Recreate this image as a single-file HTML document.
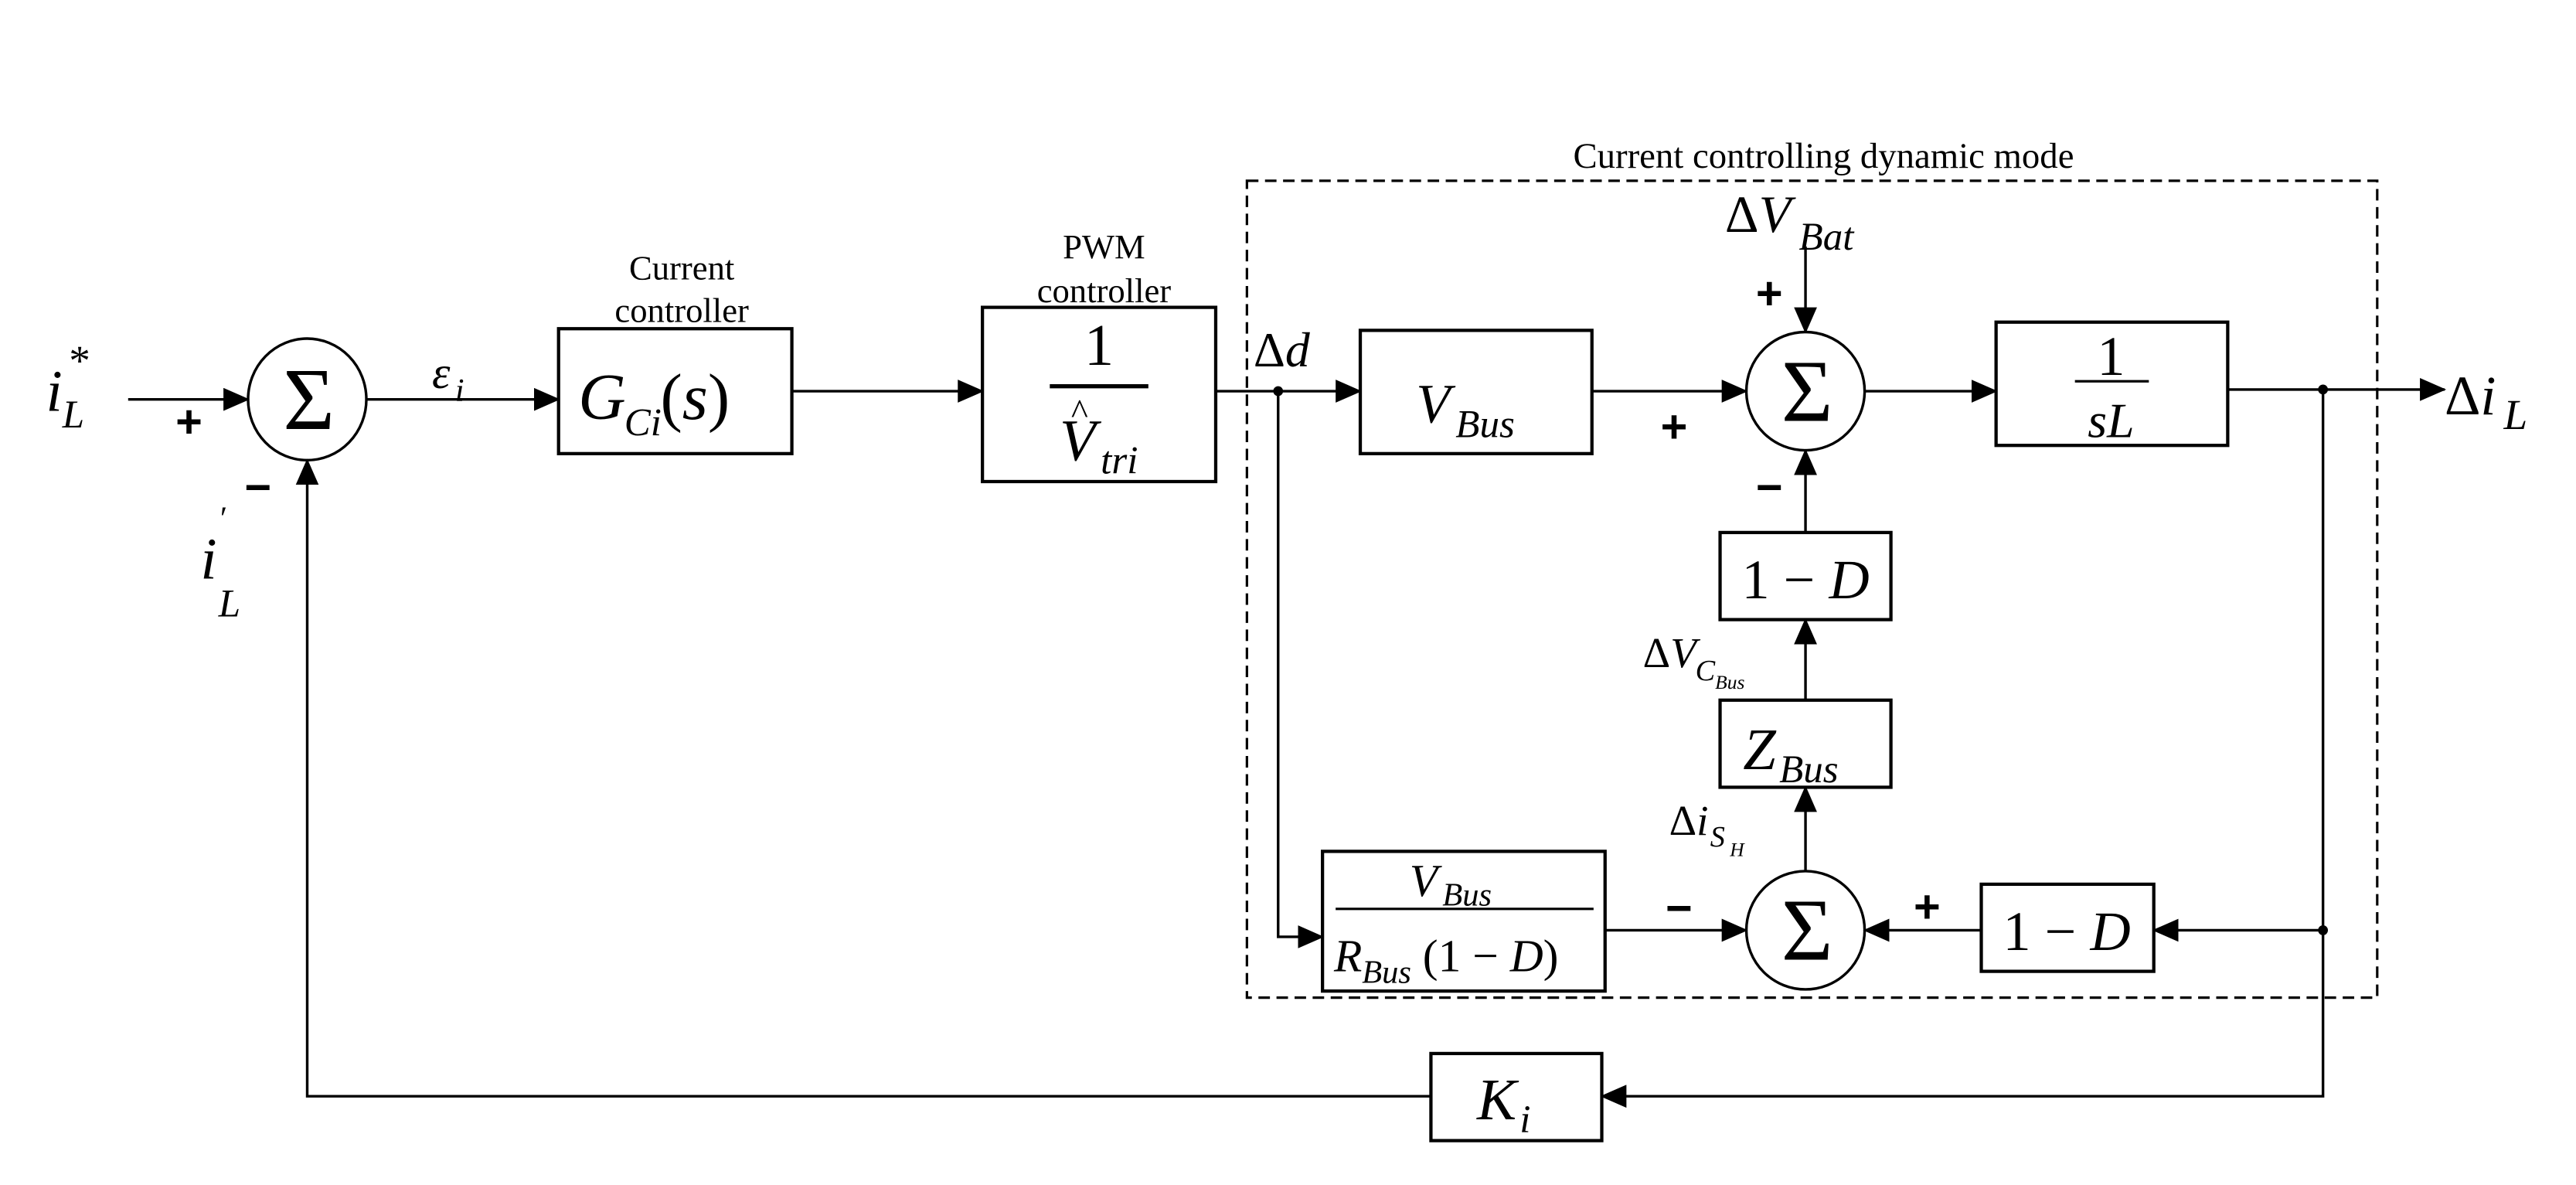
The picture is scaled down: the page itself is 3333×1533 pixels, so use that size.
<!DOCTYPE html>
<html><head><meta charset="utf-8"><style>
html,body{margin:0;padding:0;background:#fff;}
svg{display:block;}
text{font-family:"Liberation Serif",serif;fill:#000;}
.it{font-style:italic;}
</style></head><body>
<svg width="3333" height="1533" viewBox="0 0 1568 721" preserveAspectRatio="none" xmlns="http://www.w3.org/2000/svg">
<defs>
<marker id="a" markerWidth="16" markerHeight="14" refX="15" refY="7" orient="auto" markerUnits="userSpaceOnUse" viewBox="0 0 16 14">
<path d="M0,0 L16,7 L0,14 z" fill="#000"/></marker>
</defs>
<g stroke="#000" fill="none" stroke-width="1.6">
<rect x="759" y="110" width="688" height="497" stroke-dasharray="7,4" stroke-width="1.5"/>
<rect x="340" y="200" width="142" height="76" stroke-width="2"/>
<rect x="598" y="187" width="142" height="106" stroke-width="2"/>
<rect x="828" y="201" width="141" height="75" stroke-width="2"/>
<rect x="1215" y="196" width="141" height="75" stroke-width="2"/>
<rect x="1047" y="324" width="104" height="53" stroke-width="2"/>
<rect x="1047" y="426" width="104" height="53" stroke-width="2"/>
<rect x="805" y="518" width="172" height="85" stroke-width="2"/>
<rect x="1206" y="538" width="105" height="53" stroke-width="2"/>
<rect x="871" y="641" width="104" height="53" stroke-width="2"/>
<ellipse cx="187" cy="243" rx="36" ry="37"/>
<ellipse cx="1099" cy="238" rx="36" ry="36"/>
<ellipse cx="1099" cy="566" rx="36" ry="36"/>
<line x1="639" y1="235" x2="699" y2="235" stroke-width="2.5"/>
<line x1="1263" y1="232" x2="1308" y2="232" stroke-width="1.5"/>
<line x1="813" y1="553" x2="970" y2="553" stroke-width="1.5"/>
<line x1="78" y1="243" x2="151" y2="243" marker-end="url(#a)"/>
<line x1="223" y1="243" x2="340" y2="243" marker-end="url(#a)"/>
<line x1="482" y1="238" x2="598" y2="238" marker-end="url(#a)"/>
<line x1="740" y1="238" x2="828" y2="238" marker-end="url(#a)"/>
<line x1="969" y1="238" x2="1063" y2="238" marker-end="url(#a)"/>
<line x1="1099" y1="150" x2="1099" y2="202" marker-end="url(#a)"/>
<line x1="1135" y1="238" x2="1215" y2="238" marker-end="url(#a)"/>
<line x1="1356" y1="237" x2="1488" y2="237" marker-end="url(#a)"/>
<line x1="1099" y1="324" x2="1099" y2="274" marker-end="url(#a)"/>
<line x1="1099" y1="426" x2="1099" y2="377" marker-end="url(#a)"/>
<line x1="1099" y1="530" x2="1099" y2="479" marker-end="url(#a)"/>
<polyline points="778,238 778,570 805,570" marker-end="url(#a)"/>
<line x1="977" y1="566" x2="1063" y2="566" marker-end="url(#a)"/>
<line x1="1414" y1="566" x2="1311" y2="566" marker-end="url(#a)"/>
<line x1="1206" y1="566" x2="1135" y2="566" marker-end="url(#a)"/>
<polyline points="1414,237 1414,667 975,667" marker-end="url(#a)"/>
<polyline points="871,667 187,667 187,280" marker-end="url(#a)"/>
</g>
<g fill="#000">
<circle cx="778" cy="238" r="3"/>
<circle cx="1414" cy="237" r="3"/>
<circle cx="1414" cy="566" r="3"/>
</g>
<g font-weight="bold" font-size="28" text-anchor="middle">
<text x="115" y="266" style="font-family:'Liberation Sans',sans-serif">+</text>
<text x="157" y="306" style="font-family:'Liberation Sans',sans-serif">−</text>
<text x="1077" y="188" style="font-family:'Liberation Sans',sans-serif">+</text>
<text x="1019" y="269" style="font-family:'Liberation Sans',sans-serif">+</text>
<text x="1077" y="306" style="font-family:'Liberation Sans',sans-serif">−</text>
<text x="1022" y="562" style="font-family:'Liberation Sans',sans-serif">−</text>
<text x="1173" y="561" style="font-family:'Liberation Sans',sans-serif">+</text>
</g>
<g font-size="54" text-anchor="middle">
<text x="188" y="261">Σ</text>
<text x="1100" y="256">Σ</text>
<text x="1100" y="584">Σ</text>
</g>
<text x="415" y="170" font-size="21" text-anchor="middle">Current</text>
<text x="415" y="196" font-size="21" text-anchor="middle">controller</text>
<text x="672" y="157" font-size="21" text-anchor="middle">PWM</text>
<text x="672" y="184" font-size="21" text-anchor="middle">controller</text>
<text x="1110" y="102" font-size="22" text-anchor="middle">Current controlling dynamic mode</text>

<text x="28" y="250" font-size="36" class="it">i</text>
<text x="42" y="228" font-size="26">*</text>
<text x="38" y="260" font-size="24" class="it">L</text>
<text x="122" y="352" font-size="36" class="it">i</text>
<text x="134" y="322" font-size="20">′</text>
<text x="133" y="375" font-size="24" class="it">L</text>
<text x="263" y="236" font-size="28" class="it">ε</text>
<text x="277" y="244" font-size="20" class="it">i</text>

<text x="352" y="255" font-size="40" class="it">G</text>
<text x="380" y="265" font-size="24" class="it">Ci</text>
<text x="402" y="255" font-size="40">(<tspan class="it">s</tspan>)</text>

<text x="669" y="222" font-size="36" text-anchor="middle">1</text>
<text x="645" y="280" font-size="36" class="it">V</text>
<text x="652" y="258" font-size="22">^</text>
<text x="670" y="288" font-size="24" class="it">tri</text>

<text x="763" y="223" font-size="30">Δ<tspan class="it">d</tspan></text>
<text x="862" y="257" font-size="34" class="it">V</text>
<text x="886" y="266" font-size="24" class="it">Bus</text>
<text x="1050" y="141" font-size="32">Δ<tspan class="it">V</tspan></text>
<text x="1095" y="152" font-size="24" class="it">Bat</text>
<text x="1285" y="228" font-size="34" text-anchor="middle">1</text>
<text x="1285" y="266" font-size="30" text-anchor="middle" class="it">sL</text>
<text x="1488" y="252" font-size="34">Δ<tspan class="it">i</tspan></text>
<text x="1524" y="261" font-size="26" class="it">L</text>

<text x="1099" y="364" font-size="34" text-anchor="middle">1 − <tspan class="it">D</tspan></text>
<text x="1000" y="406" font-size="26">Δ<tspan class="it">V</tspan></text>
<text x="1032" y="414" font-size="18" class="it">C</text>
<text x="1044" y="419" font-size="12" class="it">Bus</text>
<text x="1061" y="468" font-size="36" class="it">Z</text>
<text x="1083" y="476" font-size="24" class="it">Bus</text>
<text x="1016" y="508" font-size="26">Δ<tspan class="it">i</tspan></text>
<text x="1041" y="515" font-size="18" class="it">S</text>
<text x="1053" y="521" font-size="12" class="it">H</text>

<text x="858" y="545" font-size="28" class="it">V</text>
<text x="878" y="551" font-size="20" class="it">Bus</text>
<text x="812" y="591" font-size="28" class="it">R</text>
<text x="829" y="598" font-size="20" class="it">Bus</text>
<text x="866" y="591" font-size="28">(1 − <tspan class="it">D</tspan>)</text>
<text x="1258" y="578" font-size="34" text-anchor="middle">1 − <tspan class="it">D</tspan></text>
<text x="899" y="681" font-size="36" class="it">K</text>
<text x="925" y="689" font-size="24" class="it">i</text>
</svg>
</body></html>
